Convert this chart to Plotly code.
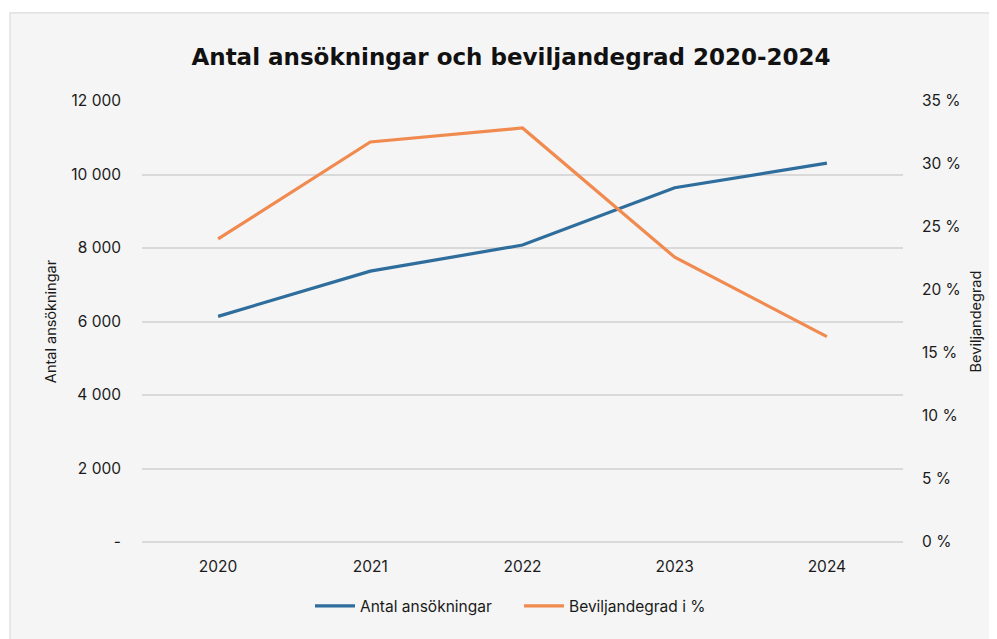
import plotly.graph_objects as go

years = ["2020", "2021", "2022", "2023", "2024"]
antal = [6140, 7370, 8080, 9640, 10310]
bevilj = [24.05, 31.75, 32.86, 22.6, 16.3]

left_ticks = [0, 2000, 4000, 6000, 8000, 10000, 12000]
left_text = ["-", "2 000", "4 000", "6 000", "8 000", "10 000", "12 000"]
right_ticks = [0, 5, 10, 15, 20, 25, 30, 35]
right_text = ["0 %", "5 %", "10 %", "15 %", "20 %", "25 %", "30 %", "35 %"]

BLUE = "#2e6d9c"
ORANGE = "#f08a4f"
FONT = "Inter"
FS = 15.5

OFF = 8  # page body margin
W, H = 997 - OFF, 639 - OFF
L = 142 - OFF
R = W - (903 - OFF)
T = 101 - OFF
B = H - (541.7 - OFF)

fig = go.Figure()
fig.add_trace(go.Scatter(x=years, y=antal, name="Antal ansökningar", mode="lines",
                         line=dict(color=BLUE, width=3.2), yaxis="y"))
fig.add_trace(go.Scatter(x=years, y=bevilj, name="Beviljandegrad i %", mode="lines",
                         line=dict(color=ORANGE, width=3.2), yaxis="y2"))

pw = W - L - R
ph = H - T - B
def px_x(x):
    return (x - OFF - L) / pw
def px_y(y):
    return (H - B - (y - OFF)) / ph

fig.update_layout(
    width=W, height=H,
    margin=dict(l=L, r=R, t=T, b=B, autoexpand=False),
    paper_bgcolor="white",
    plot_bgcolor="rgba(0,0,0,0)",
    font=dict(family=FONT, size=FS, color="#1a1a1a"),
    title=dict(text="<b>Antal ansökningar och beviljandegrad 2020-2024</b>",
               x=(511 - OFF) / W, xanchor="center", y=1 - (57 - OFF) / H, yanchor="middle",
               font=dict(family="DejaVu Sans", size=23, color="#111111")),
    shapes=[dict(type="rect", xref="paper", yref="paper",
                 x0=px_x(10), x1=px_x(1010), y0=px_y(660), y1=px_y(13),
                 fillcolor="#f5f5f5", line=dict(color="#dcdcdc", width=1.2),
                 layer="below")],
    xaxis=dict(type="category", range=[-0.5, 4.5], showgrid=False, showline=False,
               ticks="", tickfont=dict(size=FS), zeroline=False, automargin=False,
               ticklabelstandoff=13),
    yaxis=dict(range=[0, 12000], tickvals=left_ticks, ticktext=left_text,
               showgrid=True, gridcolor="#d9d9d9", gridwidth=1.5,
               zeroline=True, zerolinecolor="#d9d9d9", zerolinewidth=1.5,
               ticks="", ticklabelstandoff=20, showline=False, automargin=False,
               tickfont=dict(size=FS),
               title=dict(text="Antal ansökningar", standoff=11, font=dict(size=14.5))),
    yaxis2=dict(range=[0, 35], tickvals=right_ticks, ticktext=right_text,
                overlaying="y", side="right", showgrid=False, zeroline=False,
                ticks="", ticklabelstandoff=18, showline=False, automargin=False,
                tickfont=dict(size=FS),
                title=dict(text="Beviljandegrad", standoff=10, font=dict(size=14.5))),
    legend=dict(orientation="h", x=(310 - OFF - L) / pw, xanchor="left",
                y=px_y(606), yanchor="middle",
                font=dict(size=FS), bgcolor="rgba(0,0,0,0)", itemwidth=40,
                entrywidth=154, entrywidthmode="pixels"),
)

fig.write_html("out.html")
